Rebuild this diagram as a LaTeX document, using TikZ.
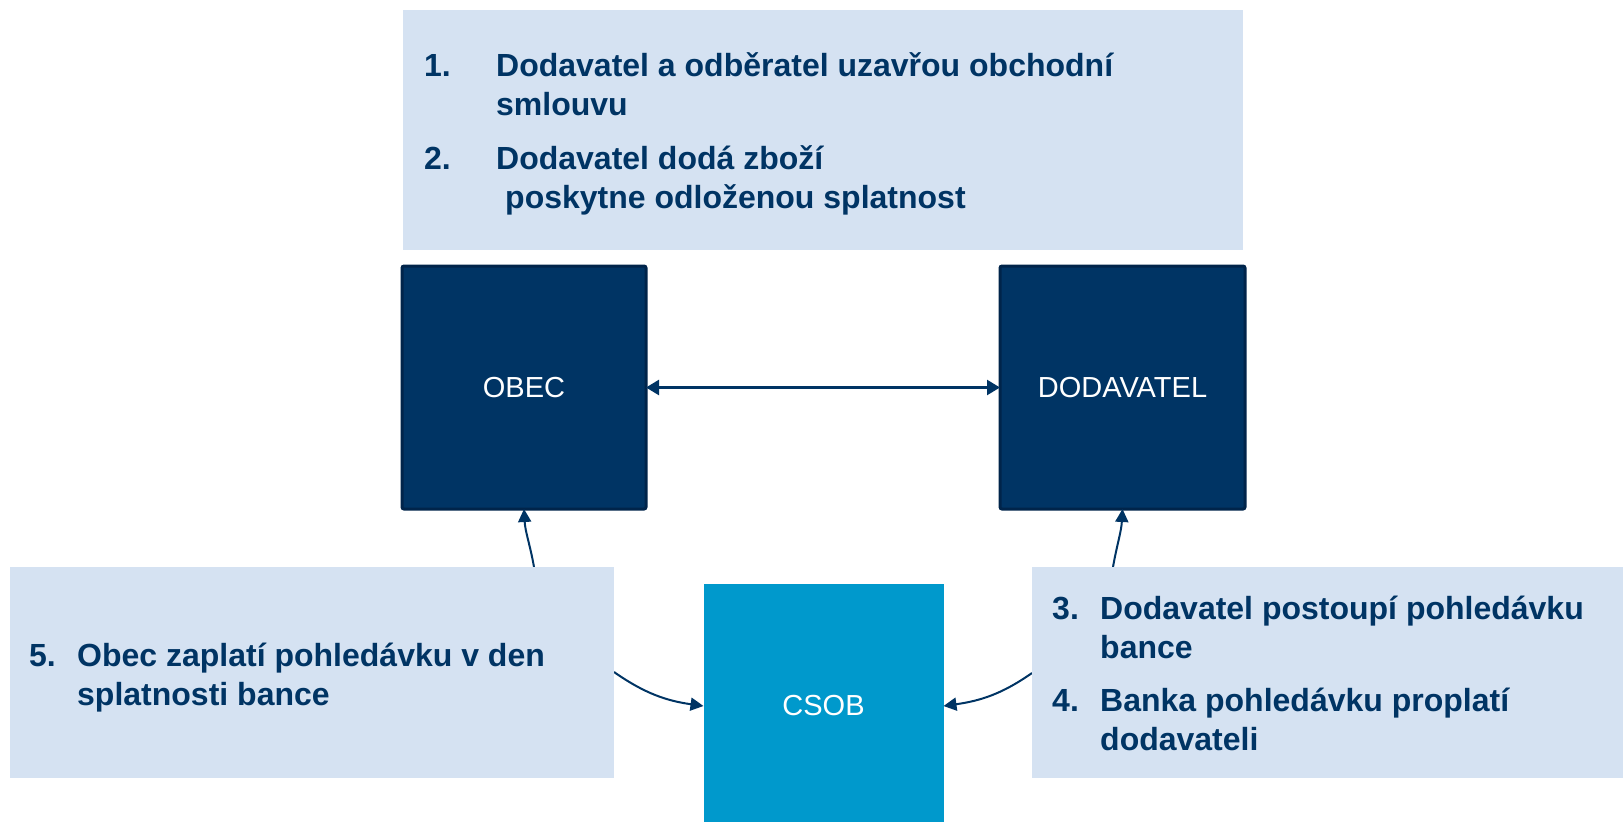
\documentclass[tikz,border=0pt]{standalone}
\usepackage{fontspec}
\setmainfont{Liberation Sans}
\usetikzlibrary{arrows.meta}
\definecolor{navy}{RGB}{0,52,100}
\definecolor{navyborder}{RGB}{0,36,74}
\definecolor{csob}{RGB}{0,153,204}
\definecolor{lightbox}{RGB}{213,226,242}
\tikzset{
  party/.style={draw=navyborder, line width=3pt, fill=navy, rounded corners=2pt,
    text=white, font=\fontsize{29}{34}\selectfont, inner sep=0pt, outer sep=0pt},
  bank/.style={fill=csob, text=white, font=\fontsize{29}{34}\selectfont, inner sep=0pt, outer sep=0pt},
  infobox/.style={fill=lightbox, inner sep=0pt, outer sep=0pt, anchor=north west},
  itemtext/.style={anchor=base west, inner sep=0pt, text=navy, font=\fontsize{32}{38}\selectfont\bfseries},
  conn/.style={draw=navy, line width=2pt, -{Triangle[length=13pt,width=13pt]}},
  dconn/.style={draw=navy, line width=2.4pt, {Triangle[length=13pt,width=15pt]}-{Triangle[length=13pt,width=15pt]}}
}
\begin{document}
\begin{tikzpicture}[x=1pt,y=-1pt]
\useasboundingbox (0,0) rectangle (1623,822);
% boxes
\node[party, minimum width=244pt, minimum height=243pt] (obec) at (524,387.5) {OBEC};
\node[party, minimum width=245pt, minimum height=243pt] (dod) at (1122.5,387.5) {DODAVATEL};
\node[bank, minimum width=240pt, minimum height=244pt] (bank) at (823.5,706) {CSOB};
% connectors
\coordinate (a5) at (534,567);
\coordinate (a3) at (1113,567);
\coordinate (b5) at (614,672);
\coordinate (b3) at (1032,673);
\draw[dconn] (obec.east) -- (dod.west);
\draw[conn] (a5) to[out=100,in=-87] (obec.south);
\draw[conn] (a3) to[out=80,in=-93] (dod.south);
\draw[conn] (b5) to[out=-35,in=172] (bank.west);
\draw[conn] (b3) to[out=-145,in=8] (bank.east);
% info boxes
\node[infobox, minimum width=840pt, minimum height=240pt] (top) at (403,10) {};
\node[infobox, minimum width=604pt, minimum height=211pt] (left) at (10,567) {};
\node[infobox, minimum width=591pt, minimum height=211pt] (right) at (1032,567) {};
% top texts
\node[itemtext] (n1) at (424,76) {1.};
\node[itemtext] (t1a) at (496,76) {Dodavatel a odběratel uzavřou obchodní};
\node[itemtext] (t1b) at (496,115) {smlouvu};
\node[itemtext] (n2) at (424,169) {2.};
\node[itemtext] (t2a) at (496,169) {Dodavatel dodá zboží};
\node[itemtext] (t2b) at (505,208) {poskytne odloženou splatnost};
% left texts
\node[itemtext] (n5) at (29,666) {5.};
\node[itemtext] (t5a) at (77,666) {Obec zaplatí pohledávku v den};
\node[itemtext] (t5b) at (77,705) {splatnosti bance};
% right texts
\node[itemtext] (n3) at (1052,619) {3.};
\node[itemtext] (t3a) at (1100,619) {Dodavatel postoupí pohledávku};
\node[itemtext] (t3b) at (1100,658) {bance};
\node[itemtext] (n4) at (1052,711) {4.};
\node[itemtext] (t4a) at (1100,711) {Banka pohledávku proplatí};
\node[itemtext] (t4b) at (1100,750) {dodavateli};
\end{tikzpicture}
\end{document}
